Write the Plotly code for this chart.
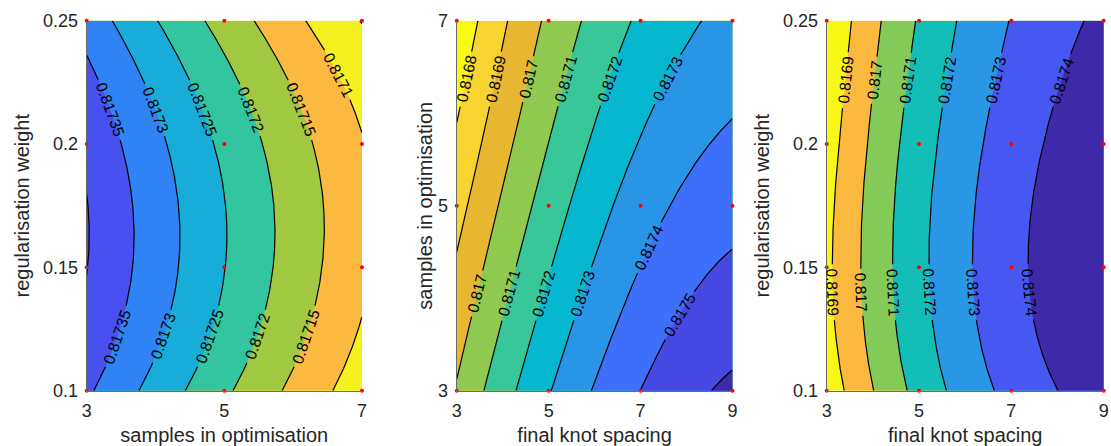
import numpy as np
import plotly.graph_objects as go

# ---------------- data (values at the sampled grid points, red dots) ----------------
# Panel 1: samples in optimisation (x) vs regularisation weight (y)
p1_x = [3, 5, 7]
p1_y = [0.10, 0.15, 0.20, 0.25]
p1_z = [
    [0.817358, 0.817209, 0.817072],   # y = 0.10
    [0.8174011, 0.817251, 0.817110],  # y = 0.15
    [0.817389, 0.817239, 0.817103],   # y = 0.20
    [0.817329, 0.817180, 0.817048],   # y = 0.25
]
p1_levels = [0.81705, 0.8171, 0.81715, 0.8172, 0.81725, 0.8173, 0.81735, 0.8174]

# Panel 2: final knot spacing (x) vs samples in optimisation (y)
p2_x = [3, 5, 7, 9]
p2_y = [3, 5, 7]
p2_z = [
    [0.817009, 0.817293, 0.817501, 0.817618],  # y = 3
    [0.816864, 0.817146, 0.817353, 0.817466],  # y = 5
    [0.816722, 0.817019, 0.817216, 0.817330],  # y = 7
]
p2_levels = [0.8168, 0.8169, 0.8170, 0.8171, 0.8172, 0.8173, 0.8174, 0.8175, 0.8176]

# Panel 3: final knot spacing (x) vs regularisation weight (y)
p3_x = [3, 5, 7, 9]
p3_y = [0.10, 0.15, 0.20, 0.25]
p3_z = [
    [0.816835, 0.817132, 0.817330, 0.817453],  # y = 0.10
    [0.816879, 0.817174, 0.817373, 0.817490],  # y = 0.15
    [0.816853, 0.817154, 0.817351, 0.817472],  # y = 0.20
    [0.816807, 0.817109, 0.817304, 0.817419],  # y = 0.25
]
p3_levels = [0.8169, 0.8170, 0.8171, 0.8172, 0.8173, 0.8174]

# band colours, from lowest band to highest band
p1_colors = ["#F5F020", "#F5F020", "#FCB940", "#A0C841", "#32C5A0",
             "#17ADD8", "#2F83F5", "#4850F0", "#4850F0"]
p2_colors = ["#F8FA14", "#F7D430", "#E8B732", "#90C94F", "#38C799",
             "#05B8CF", "#2995E7", "#3E6FFA", "#4747E2", "#3D2BA8"]
p3_colors = ["#F8F817", "#FBB93F", "#84CA59", "#13BDB8", "#2996E6",
             "#4757F2", "#3E29A8"]

x_titles = ["samples in optimisation", "final knot spacing", "final knot spacing"]
y_titles = ["regularisation weight", "samples in optimisation", "regularisation weight"]
x_ticks = [[3, 5, 7], [3, 5, 7, 9], [3, 5, 7, 9]]
y_ticks = [[0.1, 0.15, 0.2, 0.25], [3, 5, 7], [0.1, 0.15, 0.2, 0.25]]
y_ticktext = [["0.1", "0.15", "0.2", "0.25"], ["3", "5", "7"], ["0.1", "0.15", "0.2", "0.25"]]

# rows (in data units) on which the contour labels sit: lower, upper
label_rows = [[0.122, 0.214], [4.05, 6.37], [0.140, 0.226]]

# ---------------- layout geometry ----------------
W, H = 1111, 446
x_domains = [[0.0780, 0.3258], [0.4111, 0.6593], [0.7441, 0.9934]]
y_domain = [0.1240, 0.9536]
y_title_standoff = [8, 0, 8]
FONT = "Liberation Sans, Arial, Helvetica, sans-serif"
TXT = "#262626"
LABEL_SIZE = 15.5


# -------- smooth surface: spline (polynomial) interpolation through the samples --------
def lagrange_matrix(nodes, q):
    nodes = np.asarray(nodes, float)
    Wm = np.ones((len(q), len(nodes)))
    for j in range(len(nodes)):
        for k in range(len(nodes)):
            if k != j:
                Wm[:, j] *= (q - nodes[k]) / (nodes[j] - nodes[k])
    return Wm


def surface(xs, ys, zs, nx, ny):
    xq = np.linspace(min(xs), max(xs), nx)
    yq = np.linspace(min(ys), max(ys), ny)
    Z = lagrange_matrix(ys, yq) @ np.asarray(zs, float) @ lagrange_matrix(xs, xq).T
    return xq, yq, Z


def stepped_scale(colors):
    n = len(colors) - 1
    return [[i / n, c] for i, c in enumerate(colors)]


def level_paths(xq, yq, Z, L):
    """Contour of level L traced row by row (x as a function of y)."""
    runs, cur = [], []
    for j, y in enumerate(yq):
        r = Z[j] - L
        idx = np.where(np.sign(r[:-1]) * np.sign(r[1:]) <= 0)[0]
        if len(idx) == 0:
            if len(cur) > 1:
                runs.append(np.array(cur))
            cur = []
            continue
        i = idx[0]
        t = r[i] / (r[i] - r[i + 1]) if r[i] != r[i + 1] else 0.0
        cur.append((xq[i] + t * (xq[i + 1] - xq[i]), y))
    if len(cur) > 1:
        runs.append(np.array(cur))
    return runs


def label_text(L):
    return f"{L:.5g}"


panels = [
    (p1_x, p1_y, p1_z, p1_levels, p1_colors),
    (p2_x, p2_y, p2_z, p2_levels, p2_colors),
    (p3_x, p3_y, p3_z, p3_levels, p3_colors),
]

fig = go.Figure()
annotations = []
for p, (xs, ys, zs, levels, cols) in enumerate(panels):
    xa = "x" if p == 0 else f"x{p+1}"
    ya = "y" if p == 0 else f"y{p+1}"
    x0, x1 = min(xs), max(xs)
    y0, y1 = min(ys), max(ys)
    pw = (x_domains[p][1] - x_domains[p][0]) * W
    ph = (y_domain[1] - y_domain[0]) * H

    def to_px(D):
        return np.column_stack([(D[:, 0] - x0) / (x1 - x0) * pw,
                                (y1 - D[:, 1]) / (y1 - y0) * ph])

    # filled bands
    xq, yq, Z = surface(xs, ys, zs, 241, 241)
    step = levels[1] - levels[0]
    fig.add_trace(go.Contour(
        x=xq, y=yq, z=Z, xaxis=xa, yaxis=ya, autocontour=False,
        contours=dict(start=levels[0], end=levels[-1], size=step,
                      coloring="fill", showlines=False),
        line=dict(width=0), colorscale=stepped_scale(cols),
        showscale=False, hoverinfo="skip",
    ))

    # contour lines with labels
    xl, yl, Zl = surface(xs, ys, zs, 1201, 741)
    lx, ly = [], []
    for L in levels:
        txt = label_text(L)
        half = (0.556 * (len(txt) - 1) + 0.278) * LABEL_SIZE / 2 + 4
        for D in level_paths(xl, yl, Zl, L):
            P = to_px(D)
            s = np.concatenate([[0], np.cumsum(np.hypot(*np.diff(P, axis=0).T))])
            total = s[-1]
            targets = []
            if total >= 90:
                rows = label_rows[p] if total >= 320 else label_rows[p][1:]
                for r in rows:
                    rp = (y1 - r) / (y1 - y0) * ph
                    k = np.where((P[:-1, 1] - rp) * (P[1:, 1] - rp) <= 0)[0]
                    if len(k):
                        k = k[0]
                        sc = s[k]
                        if 28 <= sc <= total - 28:
                            targets.append(sc)
                if not targets:
                    targets = [total / 2]
            keep = np.ones(len(P), bool)
            for st in targets:
                keep &= np.abs(s - st) > half
                px = np.interp(st, s, P[:, 0])
                py = np.interp(st, s, P[:, 1])
                ax_ = np.interp(st + 6, s, P[:, 0]) - np.interp(st - 6, s, P[:, 0])
                ay_ = np.interp(st + 6, s, P[:, 1]) - np.interp(st - 6, s, P[:, 1])
                if ax_ < 0 or (ax_ == 0 and ay_ > 0):
                    ax_, ay_ = -ax_, -ay_
                ang = float(np.degrees(np.arctan2(ay_, ax_)))
                annotations.append(dict(
                    xref=xa, yref=ya, x=x0 + px / pw * (x1 - x0),
                    y=y1 - py / ph * (y1 - y0), text=txt, showarrow=False,
                    textangle=ang, xanchor="center", yanchor="middle",
                    font=dict(family=FONT, size=LABEL_SIZE, color="black"),
                ))
            Dx = np.where(keep, D[:, 0], np.nan)
            Dy = np.where(keep, D[:, 1], np.nan)
            lx += list(Dx) + [None]
            ly += list(Dy) + [None]
    lx = [None if (v is not None and np.isnan(v)) else v for v in lx]
    ly = [None if (v is not None and np.isnan(v)) else v for v in ly]
    fig.add_trace(go.Scatter(
        x=lx, y=ly, xaxis=xa, yaxis=ya, mode="lines",
        line=dict(color="black", width=1.2), connectgaps=False,
        hoverinfo="skip", showlegend=False,
    ))

    # sampled points
    gx, gy = np.meshgrid(xs, ys)
    fig.add_trace(go.Scatter(
        x=gx.ravel(), y=gy.ravel(), xaxis=xa, yaxis=ya, mode="markers",
        marker=dict(color="#FF0000", size=4), cliponaxis=False,
        hoverinfo="skip", showlegend=False,
    ))

layout = dict(
    width=W, height=H, margin=dict(l=0, r=0, t=0, b=0),
    paper_bgcolor="white", plot_bgcolor="white", showlegend=False,
    font=dict(family=FONT, color=TXT), annotations=annotations,
)
for i in range(3):
    xk = "xaxis" if i == 0 else f"xaxis{i+1}"
    yk = "yaxis" if i == 0 else f"yaxis{i+1}"
    ya = "y" if i == 0 else f"y{i+1}"
    xa = "x" if i == 0 else f"x{i+1}"
    xr = [min(panels[i][0]), max(panels[i][0])]
    yr = [min(panels[i][1]), max(panels[i][1])]
    layout[xk] = dict(
        domain=x_domains[i], anchor=ya, range=xr, tickvals=x_ticks[i],
        showline=True, linecolor="#6b6b6b", linewidth=1, ticks="",
        showgrid=False, zeroline=False, automargin=False,
        tickfont=dict(size=18, color=TXT), ticklabelstandoff=4,
        title=dict(text=x_titles[i], font=dict(size=20, color=TXT), standoff=9),
    )
    layout[yk] = dict(
        domain=y_domain, anchor=xa, range=yr, tickvals=y_ticks[i],
        ticktext=y_ticktext[i],
        showline=True, linecolor="#6b6b6b", linewidth=1, ticks="",
        showgrid=False, zeroline=False, automargin=False,
        tickfont=dict(size=18, color=TXT), ticklabelstandoff=4,
        title=dict(text=y_titles[i], font=dict(size=20, color=TXT),
                   standoff=y_title_standoff[i]),
    )
fig.update_layout(**layout)
fig.write_html("out.html")
